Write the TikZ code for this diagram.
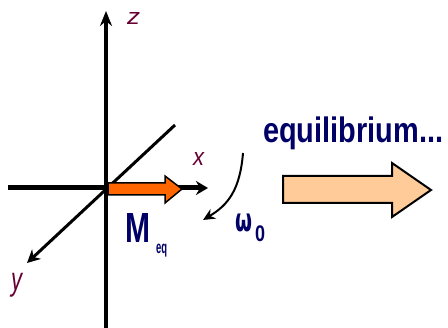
\documentclass[tikz,border=0pt]{standalone}
\usepackage{fontspec}
\setmainfont{Liberation Sans}
\newfontfamily\djv{DejaVu Sans}
\usetikzlibrary{arrows.meta}
\definecolor{navy}{HTML}{000066}
\definecolor{maroon}{HTML}{660033}
\definecolor{orng}{HTML}{FF6600}
\definecolor{peach}{HTML}{FFCC99}
\begin{document}
\begin{tikzpicture}[x=1pt,y=-1pt,
  axis/.style={black,line width=4pt},
  axlbl/.style={text=maroon,inner sep=0pt,anchor=north west},
  blue lbl/.style={text=navy,inner sep=0pt,anchor=north west}]
\useasboundingbox (0,0) rectangle (448,328);
% axes
\coordinate (zb) at (106,328);
\coordinate (zt) at (106,11);
\coordinate (xl) at (8,188);
\coordinate (xr) at (208,188);
\coordinate (yt) at (175,125);
\coordinate (yb) at (27,263);
\draw[axis,-{Stealth[length=15pt,width=12pt]}] (zb) -- (zt);
\draw[axis,line width=5pt,-{Stealth[length=12pt,width=14pt]}] (xl) -- (xr);
\draw[black,line width=3pt,-{Stealth[length=13pt,width=13pt]}] (yt) -- (yb);
% labels
\node[axlbl] (lz) at (127,12) {\resizebox*{13pt}{12pt}{\itshape z}};
\node[axlbl] (lx) at (193,152) {\resizebox*{11pt}{13pt}{\itshape x}};
\node[axlbl] (ly) at (11,273) {\resizebox*{11pt}{24pt}{\itshape y}};
% orange magnetization vector
\draw[fill=orng,draw=black,line width=1.5pt,line join=miter]
  (108,183) -- (165,183) -- (165,176) -- (182,189) -- (165,203) -- (165,195) -- (108,195) -- cycle;
% M label
\node[blue lbl] (M) at (125,213) {\resizebox*{25pt}{29pt}{\bfseries M}};
\node[blue lbl] (Msub) at (156,244) {\resizebox*{11pt}{13pt}{\bfseries eq}};
% rotation arrow
\coordinate (rs) at (243,153);
\coordinate (re) at (203,220);
\draw[black,line width=2pt,-{Stealth[length=12pt,width=11pt]}] (rs) .. controls (240,190) and (228,205) .. (re);
% omega
\node[blue lbl] (om) at (235,214) {\resizebox*{17pt}{18pt}{\djv\bfseries ω}};
\node[blue lbl] (om0) at (255,226) {\resizebox*{10pt}{16pt}{\bfseries 0}};
% equilibrium text
\node[blue lbl] (eq) at (263,117) {\resizebox*{180pt}{33pt}{\bfseries equilibrium...}};
% big arrow
\draw[fill=peach,draw=black,line width=2pt,line join=miter]
  (283,176) -- (392,176) -- (392,163) -- (431,190) -- (392,217) -- (392,203) -- (283,203) -- cycle;
\end{tikzpicture}
\end{document}
